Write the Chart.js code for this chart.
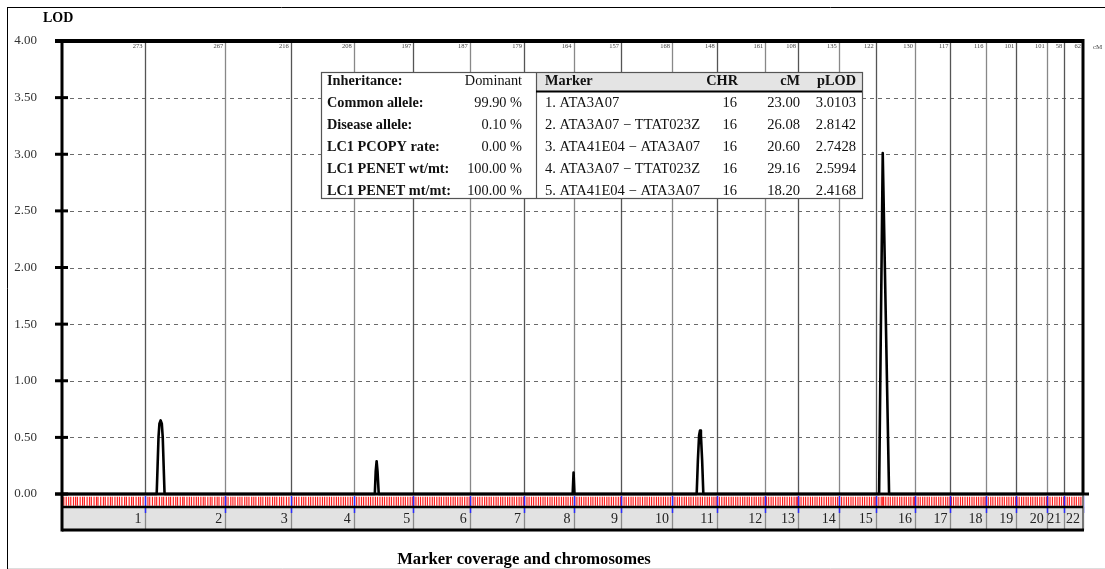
<!DOCTYPE html>
<html>
<head>
<meta charset="utf-8">
<script src="https://cdn.jsdelivr.net/npm/chart.js@4/dist/chart.umd.min.js"></script>
<style>
  html, body { margin: 0; padding: 0; background: #fff; }
  canvas { display: block; }
</style>
</head>
<body>
<canvas id="lodChart" width="1105" height="569"></canvas>
<script>
// chromosome lengths (cM)
const chromosomes = ['1','2','3','4','5','6','7','8','9','10','11','12','13','14','15','16','17','18','19','20','21','22'];
const chrLengths = [273, 267, 216, 208, 197, 187, 179, 164, 157, 168, 148, 161, 108, 135, 122, 130, 117, 116, 101, 101, 58, 62];

// genome wide LOD curve (cumulative cM, LOD)
const lodPos = [0, 313, 316, 319, 322, 326, 330, 333, 336, 339,
                1034, 1037, 1040, 1043, 1047,
                1688, 1691, 1694,
                2098, 2102, 2106, 2109, 2112, 2116, 2120,
                2701, 2713, 2734, 3375];
const lodVal = [0, 0, 0.25, 0.50, 0.62, 0.65, 0.62, 0.50, 0.25, 0,
                0, 0.20, 0.29, 0.20, 0,
                0, 0.19, 0,
                0, 0.30, 0.52, 0.56, 0.52, 0.30, 0,
                0, 3.01, 0, 0];

// marker positions inside each chromosome (cM from its start)
const markerPos = [
  [1,6,14,22,29,38,45,51,60,68,74,83,91,97,106,114,119,128,137,143,152,160,166,175,183,190,198,207,213,222,230,236,245,253,259,268],
  [3,11,17,26,34,40,49,57,63,72,80,86,95,103,109,118,126,131,140,148,155,163,171,178,186,194,200,209,217,223,232,240,246,255,262],
  [2,9,18,25,32,41,48,55,64,71,78,87,94,101,110,117,124,133,140,147,156,163,170,179,186,193,202,210],
  [4,12,19,27,36,43,50,59,66,74,82,89,97,105,112,120,128,135,143,151,158,166,174,181,189,197,204],
  [3,10,18,26,33,41,49,56,64,72,79,87,95,102,110,118,125,133,141,148,156,164,171,179,187,194],
  [2,9,17,24,32,40,47,55,63,70,78,86,93,101,109,116,124,132,139,147,155,162,170,178,185],
  [3,11,18,26,33,41,49,56,64,71,79,87,94,102,109,117,125,132,140,147,155,163,170,177],
  [2,10,17,25,32,40,48,55,63,70,78,86,93,101,108,116,124,131,139,146,154,161],
  [4,11,19,26,34,41,49,57,64,72,79,87,95,102,110,117,125,132,140,148,155],
  [2,10,17,25,33,40,48,56,63,71,79,86,94,101,109,117,124,132,140,147,155,163],
  [3,10,18,25,33,41,48,56,63,71,79,86,94,101,109,117,124,132,139,146],
  [2,9,17,25,32,40,48,55,63,70,78,86,93,101,108,116,124,131,139,146,154,160],
  [4,11,19,26,34,42,49,57,64,72,80,87,95,102,106],
  [3,10,18,25,33,41,48,56,63,71,78,86,94,101,109,116,124,131],
  [2,9,17,25,32,40,47,55,63,70,78,85,93,101,108,116,120],
  [3,10,18,23,26,33,41,48,56,63,71,79,86,94,101,109,116,124,128],
  [2,10,17,25,32,40,47,55,63,70,78,85,93,101,108,115],
  [3,10,18,25,33,40,48,56,63,71,78,86,93,101,108,114],
  [2,9,17,24,32,40,47,55,62,70,77,85,92,99],
  [3,10,18,25,33,40,48,55,63,70,78,85,93,100],
  [4,11,19,27,34,42,49,56],
  [2,10,17,25,33,40,48,55,61]
];

const yTicks = [0, 0.5, 1, 1.5, 2, 2.5, 3, 3.5, 4];

// parameter box + top markers table
const settingLabels = ['Inheritance:', 'Common allele:', 'Disease allele:', 'LC1 PCOPY rate:', 'LC1 PENET wt/mt:', 'LC1 PENET mt/mt:'];
const settingValues = ['Dominant', '99.90 %', '0.10 %', '0.00 %', '100.00 %', '100.00 %'];
const topMarkers = ['1. ATA3A07', '2. ATA3A07 \u2212 TTAT023Z', '3. ATA41E04 \u2212 ATA3A07', '4. ATA3A07 \u2212 TTAT023Z', '5. ATA41E04 \u2212 ATA3A07'];
const topChr = ['16', '16', '16', '16', '16'];
const topCm = ['23.00', '26.08', '20.60', '29.16', '18.20'];
const topPlod = ['3.0103', '2.8142', '2.7428', '2.5994', '2.4168'];

// chromosome starts / ends along the genome
const chrStart = [];
let acc = 0;
chrLengths.forEach(l => { chrStart.push(acc); acc += l; });
const genomeLen = acc;

const lodPoints = lodPos.map((p, i) => ({ x: p, y: lodVal[i] }));
const markerPoints = [];
markerPos.forEach((list, c) => list.forEach(m => markerPoints.push({ x: chrStart[c] + m, y: -0.064 })));

const SERIF = '"Liberation Serif", "DejaVu Serif", serif';

function line(ctx, x1, y1, x2, y2, color, w) {
    ctx.beginPath();
    ctx.strokeStyle = color;
    ctx.lineWidth = w;
    ctx.moveTo(x1, y1);
    ctx.lineTo(x2, y2);
    ctx.stroke();
}

const decor = {
    id: 'decor',
    beforeDraw(chart) {
        const ctx = chart.ctx;
        ctx.save();
        ctx.fillStyle = '#fff';
        ctx.fillRect(0, 0, chart.width, chart.height);
        // outer frame
        line(ctx, 7.5, 569, 7.5, 7.5, '#000', 1);
        line(ctx, 7, 7.5, 1105, 7.5, '#000', 1);
        line(ctx, 8, 568.5, 1105, 568.5, '#ddd', 1);
        ctx.restore();
    },
    beforeDatasetsDraw(chart) {
        const { ctx, chartArea: a, scales: { x, y } } = chart;
        const yZero = y.getPixelForValue(0);
        ctx.save();
        // dashed horizontal grid
        ctx.setLineDash([4, 4]);
        yTicks.forEach(t => {
            if (t === 0 || t === 4) return;
            const py = Math.round(y.getPixelForValue(t)) + 0.5;
            line(ctx, a.left, py, a.right, py, '#6a6a6a', 1);
        });
        ctx.setLineDash([]);
        // chromosome boundaries
        chrStart.forEach((s, i) => {
            if (i === 0) return;
            const px = Math.round(x.getPixelForValue(s)) + 0.5;
            line(ctx, px, a.top, px, yZero, i % 2 ? '#555' : '#888', 1.3);
        });
        // grey chromosome band
        const stripLine = yZero + 13;
        ctx.fillStyle = '#e2e2e2';
        ctx.fillRect(a.left, stripLine, a.right - a.left, a.bottom - stripLine);
        ctx.restore();
    },
    afterDatasetsDraw(chart) {
        const { ctx, chartArea: a, scales: { x, y } } = chart;
        const yZero = y.getPixelForValue(0);
        const stripLine = yZero + 13;
        const bottom = a.bottom - 1.5;
        ctx.save();

        // separators & blue boundary ticks
        chrStart.concat([genomeLen]).forEach((s, i) => {
            if (i === 0) return;
            const px = Math.round(x.getPixelForValue(s)) + 0.5;
            line(ctx, px, stripLine, px, bottom, '#8a8a8a', 1.3);
            line(ctx, px, yZero + 2, px, yZero + 19, '#2b2bff', 1.5);
        });

        // chromosome numbers and lengths
        ctx.textAlign = 'right';
        ctx.textBaseline = 'middle';
        chromosomes.forEach((c, i) => {
            const px = x.getPixelForValue(chrStart[i] + chrLengths[i]);
            ctx.font = '14px ' + SERIF;
            ctx.fillStyle = '#222';
            ctx.fillText(c, px - 3, (stripLine + bottom) / 2 + 1);
            ctx.font = '6.5px ' + SERIF;
            ctx.fillStyle = '#444';
            ctx.fillText(String(chrLengths[i]), px - 2, a.top + 5);
        });
        ctx.textAlign = 'left';
        ctx.font = '7px ' + SERIF;
        ctx.fillText('cM', a.right + 10, a.top + 6);

        // frame of the plot
        line(ctx, a.left - 7, a.top, a.right, a.top, '#000', 4);
        line(ctx, a.left, a.top - 2, a.left, bottom + 1.5, '#000', 3);
        line(ctx, a.right, a.top - 2, a.right, yZero, '#000', 3);
        line(ctx, a.right, yZero, a.right, bottom, '#777', 2);
        line(ctx, a.left - 7, yZero, a.right + 6, yZero, '#000', 3);
        line(ctx, a.left, stripLine, a.right, stripLine, '#000', 2.5);
        line(ctx, a.left, bottom, a.right + 1, bottom, '#000', 3);
        yTicks.forEach(t => {
            const py = y.getPixelForValue(t);
            line(ctx, a.left - 7, py, a.left + 6, py, '#000', 3);
        });

        // axis titles
        ctx.fillStyle = '#000';
        ctx.font = 'bold 14px ' + SERIF;
        ctx.textAlign = 'left';
        ctx.fillText('LOD', 43, 18);
        ctx.font = 'bold 16.6px ' + SERIF;
        ctx.textAlign = 'center';
        ctx.fillText('Marker coverage and chromosomes', 524, 560);

        // parameter box
        const bx = 321, by = 72, bh = 126, mid = 536, bx2 = 862;
        ctx.fillStyle = '#fff';
        ctx.fillRect(bx, by, bx2 - bx, bh);
        ctx.fillStyle = '#e4e4e4';
        ctx.fillRect(mid, by, bx2 - mid, 19);
        ctx.strokeStyle = '#555';
        ctx.lineWidth = 1.2;
        ctx.strokeRect(bx + 0.5, by + 0.5, bx2 - bx, bh);
        line(ctx, mid + 0.5, by, mid + 0.5, by + bh, '#555', 1.2);
        line(ctx, mid, by + 19.5, bx2, by + 19.5, '#000', 2);

        const rowY = [81, 103, 125, 147, 169, 191];
        ctx.fillStyle = '#111';
        settingLabels.forEach((s, i) => {
            ctx.font = 'bold 14.3px ' + SERIF;
            ctx.textAlign = 'left';
            ctx.fillText(s, 327, rowY[i]);
            ctx.font = '14.3px ' + SERIF;
            ctx.textAlign = 'right';
            ctx.fillText(settingValues[i], 522, rowY[i]);
        });
        ctx.font = 'bold 14.3px ' + SERIF;
        ctx.textAlign = 'left';
        ctx.fillText('Marker', 545, rowY[0]);
        ctx.textAlign = 'right';
        ctx.fillText('CHR', 738, rowY[0]);
        ctx.fillText('cM', 800, rowY[0]);
        ctx.fillText('pLOD', 856, rowY[0]);
        ctx.font = '14.6px ' + SERIF;
        topMarkers.forEach((m, i) => {
            const ry = rowY[i + 1];
            ctx.textAlign = 'left';
            ctx.fillText(m, 545, ry);
            ctx.textAlign = 'right';
            ctx.fillText(topChr[i], 737, ry);
            ctx.fillText(topCm[i], 800, ry);
            ctx.fillText(topPlod[i], 856, ry);
        });
        ctx.restore();
    }
};

new Chart(document.getElementById('lodChart'), {
    type: 'line',
    data: {
        datasets: [{
            label: 'LOD',
            data: lodPoints,
            borderColor: '#000',
            borderWidth: 2.6,
            borderJoinStyle: 'round',
            pointRadius: 0,
            fill: false,
            tension: 0
        }, {
            type: 'scatter',
            label: 'Markers',
            data: markerPoints,
            pointStyle: 'line',
            rotation: 90,
            radius: 4.5,
            borderColor: 'rgba(255, 0, 0, 0.88)',
            borderWidth: 1.2,
            showLine: false
        }]
    },
    options: {
        responsive: false,
        animation: false,
        events: [],
        layout: { padding: { left: 7, top: 41, right: 22, bottom: 37.6 } },
        plugins: { legend: { display: false }, tooltip: { enabled: false } },
        scales: {
            x: { type: 'linear', min: 0, max: genomeLen, display: false },
            y: {
                min: -0.33,
                max: 4,
                afterBuildTicks(scale) { scale.ticks = yTicks.map(v => ({ value: v })); },
                afterFit(scale) { scale.width = 55; },
                grid: { display: false, drawTicks: false },
                border: { display: false },
                ticks: {
                    padding: 25,
                    color: '#333',
                    font: { family: SERIF, size: 13 },
                    callback: v => Number(v).toFixed(2)
                }
            }
        }
    },
    plugins: [decor]
});
</script>
</body>
</html>
